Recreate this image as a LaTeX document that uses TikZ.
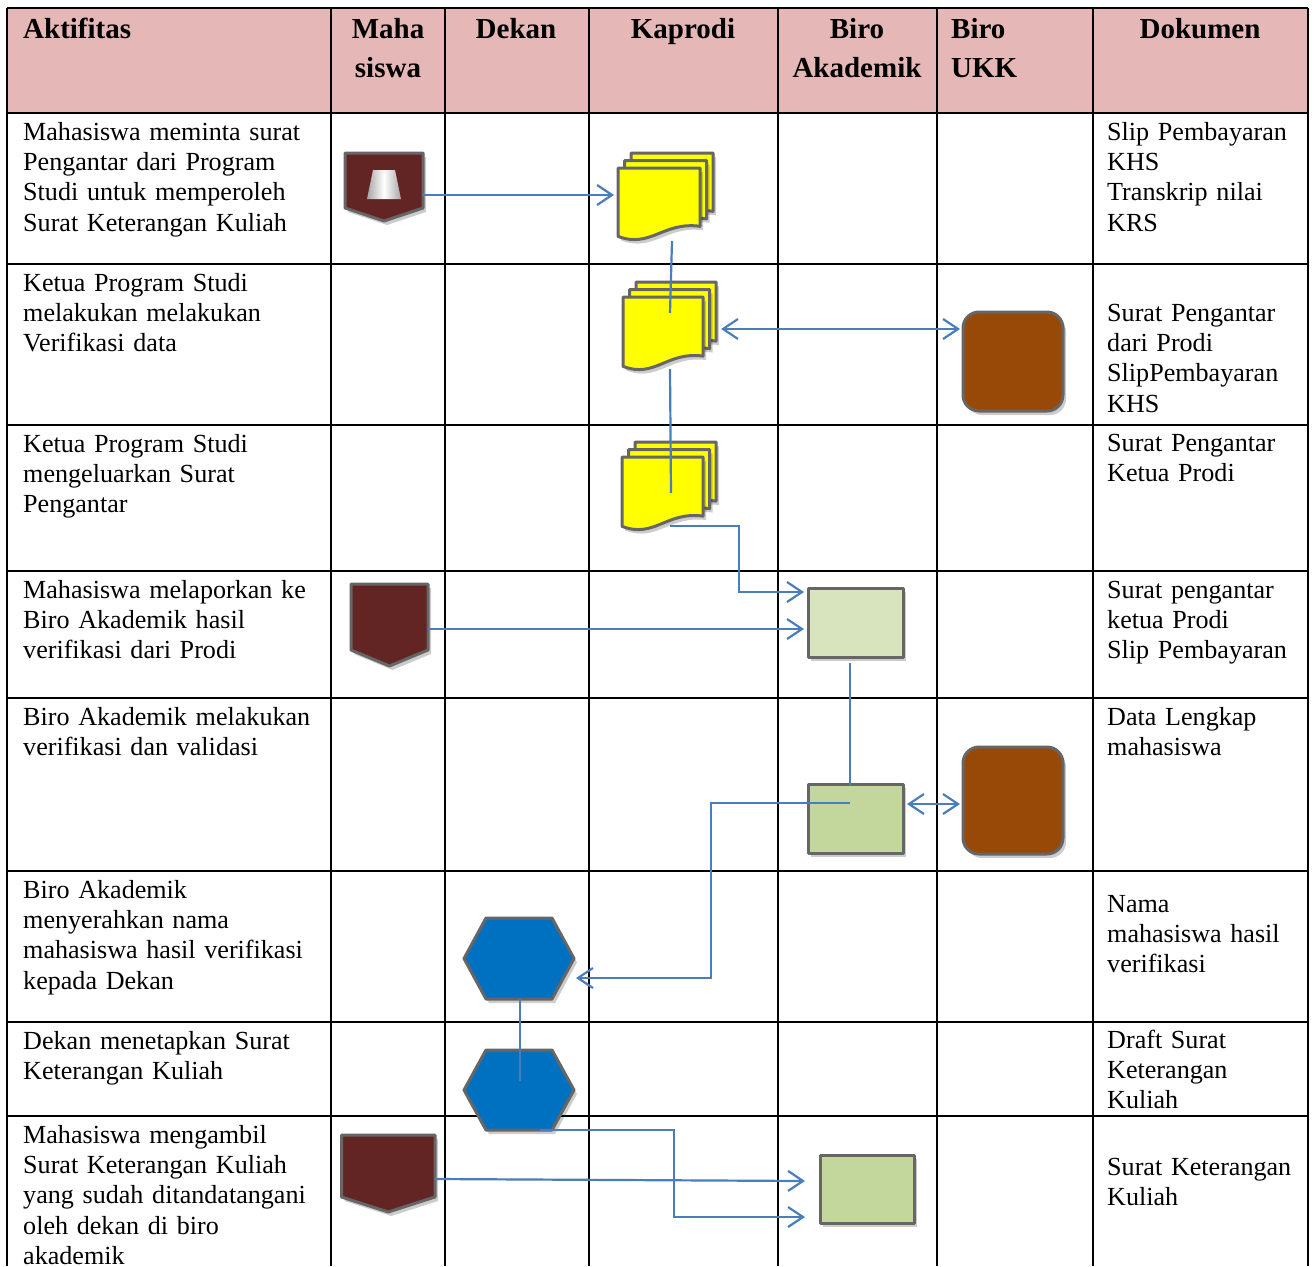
\documentclass[tikz,border=0pt]{standalone}
\usepackage{fontspec}
\setmainfont{Liberation Serif}
\usetikzlibrary{arrows.meta,calc,fit,shadows}
\definecolor{hdr}{HTML}{E5B8B7}
\definecolor{conn}{HTML}{4A7EBB}
\definecolor{edge}{HTML}{666666}
\definecolor{pentfill}{HTML}{632523}
\definecolor{brownfill}{HTML}{984807}
\definecolor{lgreen}{HTML}{D7E4BD}
\definecolor{mgreen}{HTML}{C3D69B}
\definecolor{hexfill}{HTML}{0070C0}
\definecolor{docfill}{HTML}{FFFF00}
\tikzset{
 gridline/.style={line width=1.3pt, black},
 body/.style={anchor=base west, inner sep=0pt, text width=330pt, align=left, font=\fontsize{26.1pt}{30.4pt}\selectfont},
 head/.style={anchor=base, inner sep=0pt, text width=160pt, align=center, font=\bfseries\fontsize{29pt}{39pt}\selectfont},
 headl/.style={head, anchor=base west, align=left},
 shp/.style={draw=edge, line width=3pt, line join=round, drop shadow={shadow xshift=3pt, shadow yshift=-4pt, fill=black, opacity=0.2}},
 frame/.style={inner sep=0pt, outer sep=0pt, draw=none},
 link/.style={draw=conn, line width=2.2pt},
 arr/.style={link, -{Straight Barb[length=15pt,width=20pt]}},
 darr/.style={link, {Straight Barb[length=15pt,width=20pt]}-{Straight Barb[length=15pt,width=20pt]}},
 boxnode/.style={shp, rectangle, anchor=north west, inner sep=0pt, outer sep=0pt},
}
\newcommand\onedoc[4]{\path[shp,fill=docfill] ({#1},{-(#2)}) -- ({#1+#3},{-(#2)}) -- ({#1+#3},{-(#2+0.81*#4)}) .. controls ({#1+0.55*#3},{-(#2+0.74*#4)}) and ({#1+0.4*#3},{-(#2+1.12*#4)}) .. ({#1},{-(#2+0.95*#4)}) -- cycle;}
\newcommand\multidoc[5]{%
 \onedoc{#2+13}{#3-15}{#4}{#5}
 \onedoc{#2+6.5}{#3-7.5}{#4}{#5}
 \onedoc{#2}{#3}{#4}{#5}
 \node[frame, fit={({#2},{-(#3-15)}) ({#2+#4+13},{-(#3+#5)})}] (#1) {};}
\newcommand\offpage[6]{%
 \path[shp,fill=pentfill] ({#2},{-(#3)}) -- ({#4},{-(#3)}) -- ({#4},{-(#5)}) -- ({(#2+#4)/2},{-(#6)}) -- ({#2},{-(#5)}) -- cycle;
 \node[frame, fit={({#2},{-(#3)}) ({#4},{-(#6)})}] (#1) {};}
\newcommand\hexa[5]{%
 \path[shp,fill=hexfill] ({#2},{-(#3+#5)/2}) -- ({#2+22},{-(#3)}) -- ({#4-22},{-(#3)}) -- ({#4},{-(#3+#5)/2}) -- ({#4-22},{-(#5)}) -- ({#2+22},{-(#5)}) -- cycle;
 \node[frame, fit={({#2},{-(#3)}) ({#4},{-(#5)})}] (#1) {};}
\begin{document}
\begin{tikzpicture}[x=1pt,y=1pt]
\useasboundingbox (0,0) rectangle (1314,-1266);
% header background
\fill[hdr] (7,-8) rectangle (1308,-113);
% grid
\foreach \xx in {7,331,445,589,778,937,1093,1308} \draw[gridline] (\xx,-8) -- (\xx,-1266);
\foreach \yy in {8,113,264,425,571,698,871,1022,1116} \draw[gridline] (7,-\yy) -- (1308,-\yy);
% header texts
\node[headl] (hAkt) at (23,-38) {Aktifitas};
\node[head] (hMhs) at (388,-38) {Maha\\siswa};
\node[head] (hDek) at (516,-38) {Dekan};
\node[head] (hKap) at (683,-38) {Kaprodi};
\node[head] (hBA) at (857,-38) {Biro\\Akademik};
\node[headl] (hBU) at (951,-38) {Biro\\UKK};
\node[head] (hDok) at (1200,-38) {Dokumen};
% activity texts
\node[body] (a1) at (23,-140) {Mahasiswa meminta surat\\Pengantar dari Program\\Studi untuk memperoleh\\Surat Keterangan Kuliah};
\node[body] (a2) at (23,-291) {Ketua Program Studi\\melakukan melakukan\\Verifikasi data};
\node[body] (a3) at (23,-452) {Ketua Program Studi\\mengeluarkan Surat\\Pengantar};
\node[body] (a4) at (23,-598) {Mahasiswa melaporkan ke\\Biro Akademik hasil\\verifikasi dari Prodi};
\node[body] (a5) at (23,-725) {Biro Akademik melakukan\\verifikasi dan validasi};
\node[body] (a6) at (23,-898) {Biro Akademik\\menyerahkan nama\\mahasiswa hasil verifikasi\\kepada Dekan};
\node[body] (a7) at (23,-1049) {Dekan menetapkan Surat\\Keterangan Kuliah};
\node[body] (a8) at (23,-1143) {Mahasiswa mengambil\\Surat Keterangan Kuliah\\yang sudah ditandatangani\\oleh dekan di biro\\akademik};
% document texts
\node[body, text width=205pt] (d1) at (1107,-140) {Slip Pembayaran\\KHS\\Transkrip nilai\\KRS};
\node[body, text width=205pt] (d2) at (1107,-321) {Surat Pengantar\\dari Prodi\\SlipPembayaran\\KHS};
\node[body, text width=205pt] (d3) at (1107,-451) {Surat Pengantar\\Ketua Prodi};
\node[body, text width=205pt] (d4) at (1107,-598) {Surat pengantar\\ketua Prodi\\Slip Pembayaran};
\node[body, text width=205pt] (d5) at (1107,-725) {Data Lengkap\\mahasiswa};
\node[body, text width=205pt] (d6) at (1107,-912) {Nama\\mahasiswa hasil\\verifikasi};
\node[body, text width=205pt] (d7) at (1107,-1048) {Draft Surat\\Keterangan\\Kuliah};
\node[body, text width=205pt] (d8) at (1107,-1175) {Surat Keterangan\\Kuliah};
% shapes
\offpage{pent1}{345}{153}{423}{208}{221}
\path[left color=gray!70, right color=gray!70, middle color=white] (373,-170) -- (395,-170) -- (401,-199) -- (367,-199) -- cycle;
\offpage{pent2}{351}{584}{428}{650}{666}
\offpage{pent3}{341.5}{1135}{435}{1197}{1212}
\multidoc{doc1}{618}{168}{82}{72}
\multidoc{doc2}{623}{297}{80}{73}
\multidoc{doc3}{622}{457}{81}{73}
\node[boxnode, fill=brownfill, rounded corners=16pt, minimum width=100pt, minimum height=99pt] (brown1) at (963,-312) {};
\node[boxnode, fill=brownfill, rounded corners=16pt, minimum width=100pt, minimum height=107pt] (brown2) at (963,-747) {};
\node[boxnode, fill=lgreen, minimum width=95pt, minimum height=69pt] (box1) at (808,-588) {};
\node[boxnode, fill=mgreen, minimum width=95pt, minimum height=69pt] (box2) at (808,-784) {};
\node[boxnode, fill=mgreen, minimum width=94pt, minimum height=68pt] (box3) at (820,-1155) {};
\hexa{hex1}{464}{918}{574}{999}
\hexa{hex2}{464}{1050}{574}{1130}
% connectors
\draw[arr] ($(pent1.east)+(0,-8)$) -- ($(doc1.west)+(-4,1.5)$);
\draw[link] ($(doc1.south)+(6.5,-1)$) -- ($(doc2.center)+(0.5,13)$);
\draw[link] ($(doc2.south)+(0.5,1)$) -- ($(doc3.center)+(2,-7)$);
\draw[darr] ($(doc2.east)+(5,-3)$) -- ($(brown1.west)+(-3,32.5)$);
\draw[arr] ($(doc3.south)+(1,4)$) -- ++(69,0) |- ($(box1.west)+(-4,30.5)$);
\draw[arr] ($(pent2.east)+(0,-4)$) -- ($(box1.west)+(-4,-6.5)$);
\draw[link] ($(box1.south)+(-5.5,-6)$) -- ($(box2.north)+(-5.5,-2)$);
\draw[darr] ($(box2.east)+(4,14.5)$) -- ($(brown2.west)+(-3,-3.5)$);
\draw[arr] ($(box2.center)+(-5.5,15.5)$) -- ++(-139,0) |- ($(hex1.east)+(2,-19.5)$);
\draw[link] ($(hex1.south)+(1,0)$) -- ($(hex2.center)+(1,9)$);
\draw[arr] ($(hex2.south)+(21,0)$) -- ++(134,0) |- ($(box3.west)+(-15,-28)$);
\draw[arr] ($(pent3.east)+(0,-5.5)$) -- ($(box3.west)+(-15,8)$);
\end{tikzpicture}
\end{document}
